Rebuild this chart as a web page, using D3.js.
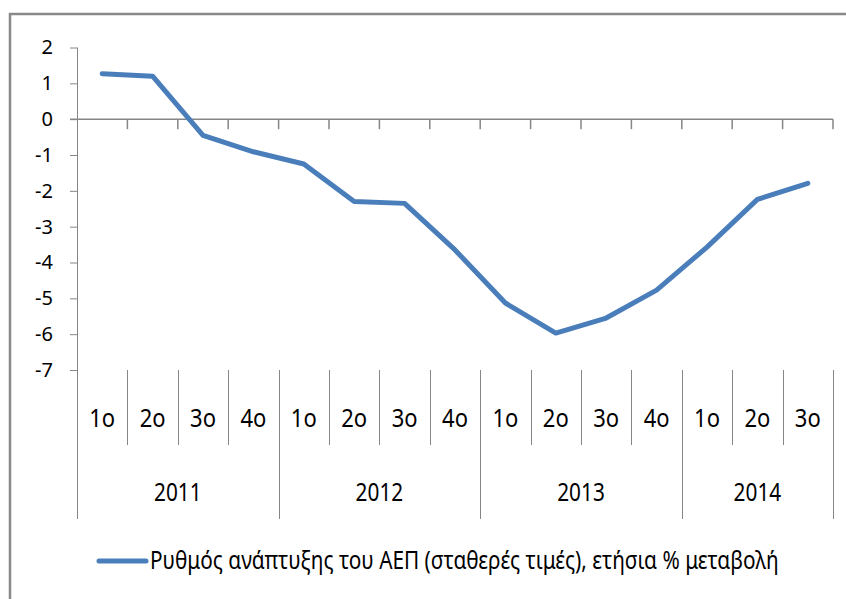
<!DOCTYPE html>
<html>
<head>
<meta charset="utf-8">
<script src="https://cdn.jsdelivr.net/npm/d3@7"></script>
<style>
  body { margin: 0; background: #fff; }
  svg { display: block; font-family: 'Noto Sans', sans-serif; }
</style>
</head>
<body>
<svg id="chart" width="846" height="599"></svg>
<script>
/* ------------ Data ----------------*/
const years = ['2011', '2012', '2013', '2014'];
const quarterLabels = ['1ο', '2ο', '3ο', '4ο', '1ο', '2ο', '3ο', '4ο', '1ο', '2ο', '3ο', '4ο', '1ο', '2ο', '3ο'];
const categoryYears = ['2011', '2011', '2011', '2011', '2012', '2012', '2012', '2012',
  '2013', '2013', '2013', '2013', '2014', '2014', '2014'];
const gdpGrowth = [1.27, 1.2, -0.45, -0.91, -1.25, -2.3, -2.35, -3.65,
  -5.13, -5.97, -5.55, -4.77, -3.57, -2.24, -1.79];
const yTicks = [-7, -6, -5, -4, -3, -2, -1, 0, 1, 2];
const seriesName = 'Ρυθμός ανάπτυξης του ΑΕΠ (σταθερές τιμές), ετήσια % μεταβολή';

/* ------------ Setup ----------------*/
const svg = d3.select('#chart');
const axisColor = '#868686';
const lineColor = '#4A7EBB';
const categories = quarterLabels.map((q, i) => i);

const x = d3.scaleBand()
  .domain(categories)
  .range([77, 833]);

const y = d3.scaleLinear()
  .domain([-7, 2])
  .range([370, 47.5]);

const bw = x.bandwidth();
const y0 = y(0);

// outer frame of the chart area (runs off the picture at right and bottom)
svg.append('rect')
  .attr('x', 10)
  .attr('y', 14)
  .attr('width', 860)
  .attr('height', 620)
  .attr('fill', 'none')
  .attr('stroke', '#898989')
  .attr('stroke-width', 2.5);

/* ------------ Axes ----------------*/
const yAxis = svg.append('g')
  .attr('transform', 'translate(77,0)')
  .call(d3.axisLeft(y)
    .tickValues(yTicks)
    .tickSize(7)
    .tickPadding(17)
    .tickFormat(d => String(d)));

yAxis.select('.domain').remove();
yAxis.selectAll('.tick line')
  .attr('stroke', axisColor);
yAxis.selectAll('.tick text')
  .attr('font-size', '20px')
  .attr('font-family', 'Noto Sans')
  .attr('fill', '#000');

// vertical axis line, continues down as the outer separator of the label grid
svg.append('line')
  .attr('x1', 77.5)
  .attr('y1', y(2))
  .attr('x2', 77.5)
  .attr('y2', 519)
  .attr('stroke', axisColor)
  .attr('stroke-width', 1);

// category axis sits on zero
svg.append('line')
  .attr('x1', 70)
  .attr('y1', y0)
  .attr('x2', x(categories[categories.length - 1]) + bw)
  .attr('y2', y0)
  .attr('stroke', axisColor)
  .attr('stroke-width', 1.5);

svg.append('g')
  .selectAll('line')
  .data(categories)
  .join('line')
  .attr('x1', d => x(d) + bw)
  .attr('x2', d => x(d) + bw)
  .attr('y1', y0)
  .attr('y2', y0 + 10)
  .attr('stroke', axisColor)
  .attr('stroke-width', 1.5);

/* ------------ Multi-level labels ----------------*/
const isYearEnd = i => i === categories.length - 1 || categoryYears[i + 1] !== categoryYears[i];

svg.append('g')
  .selectAll('line')
  .data(categories)
  .join('line')
  .attr('x1', d => Math.round(x(d) + bw) + 0.5)
  .attr('x2', d => Math.round(x(d) + bw) + 0.5)
  .attr('y1', y(-7))
  .attr('y2', d => isYearEnd(d) ? 519 : 445)
  .attr('stroke', axisColor)
  .attr('stroke-width', 1);

const squeezeText = (wrapper, cx, cy, sx, size, text, anchor = 'middle') => {
  return wrapper.append('g')
    .attr('transform', `translate(${cx},${cy}) scale(${sx},1)`)
    .append('text')
    .attr('text-anchor', anchor)
    .attr('font-size', size)
    .attr('fill', '#000')
    .text(text);
};

const labels = svg.append('g');
categories.forEach(i => {
  squeezeText(labels, x(i) + bw / 2, 427, 0.88, '25px', quarterLabels[i]);
});

years.forEach(yr => {
  const idx = categories.filter(i => categoryYears[i] === yr);
  const left = x(idx[0]);
  const right = x(idx[idx.length - 1]) + bw;
  squeezeText(labels, (left + right) / 2, 501, 0.8, '26px', yr);
});

/* ------------ Series ----------------*/
const line = d3.line()
  .x((d, i) => x(categories[i]) + bw / 2)
  .y(d => y(d));

svg.append('path')
  .datum(gdpGrowth)
  .attr('d', line)
  .attr('fill', 'none')
  .attr('stroke', lineColor)
  .attr('stroke-width', 5)
  .attr('stroke-linejoin', 'round')
  .attr('stroke-linecap', 'round');

/* ------------ Legend ----------------*/
svg.append('line')
  .attr('x1', 99)
  .attr('y1', 561)
  .attr('x2', 146)
  .attr('y2', 561)
  .attr('stroke', lineColor)
  .attr('stroke-width', 5)
  .attr('stroke-linecap', 'round');

// squeeze the legend text to the width it takes in the reference
const legendText = squeezeText(svg, 150, 569, 1, '26px', seriesName, 'start');
const natural = legendText.node().getComputedTextLength();
d3.select(legendText.node().parentNode)
  .attr('transform', `translate(150,569) scale(${629 / natural},1)`);
</script>
</body>
</html>
